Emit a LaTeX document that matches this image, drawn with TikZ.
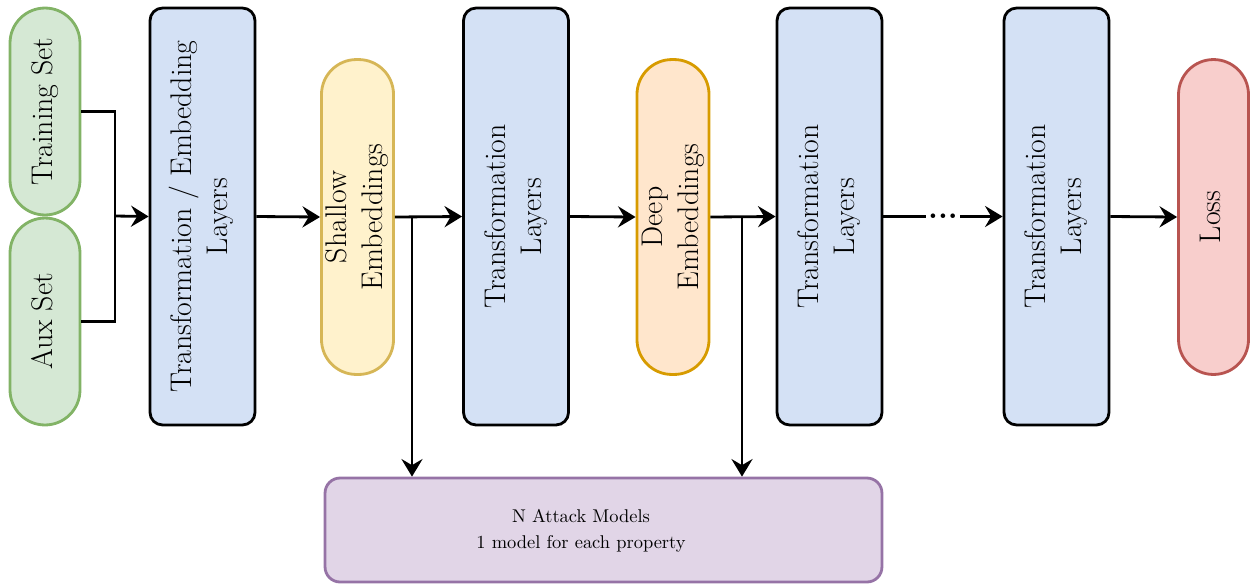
\documentclass[tikz,border=0pt]{standalone}
\usetikzlibrary{arrows.meta}

\definecolor{setfill}{HTML}{D5E8D4}
\definecolor{setdraw}{HTML}{82B366}
\definecolor{layerfill}{HTML}{D4E1F5}
\definecolor{shallowfill}{HTML}{FFF2CC}
\definecolor{shallowdraw}{HTML}{D6B656}
\definecolor{deepfill}{HTML}{FFE6CC}
\definecolor{deepdraw}{HTML}{D79B00}
\definecolor{lossfill}{HTML}{F8CECC}
\definecolor{lossdraw}{HTML}{B85450}
\definecolor{attackfill}{HTML}{E1D5E7}
\definecolor{attackdraw}{HTML}{9673A6}

\newcommand{\vlabel}[1]{\rotatebox{90}{\begin{tabular}{@{}c@{}}#1\end{tabular}}}

\begin{document}
\begin{tikzpicture}[x=0.02cm, y=-0.02cm, line width=1.6pt,
    layer/.style={draw=black, fill=layerfill, rounded corners=0.25cm, inner sep=0pt,
      minimum width=2.1cm, minimum height=8.34cm, font=\fontsize{17}{20.5}\selectfont},
    pill/.style={draw, rounded corners=0.7cm, inner sep=0pt, minimum width=1.4cm,
      font=\fontsize{17}{20.5}\selectfont},
    flow/.style={-{Stealth[length=10pt, width=12pt, inset=3.5pt]}}]
  \useasboundingbox (0,0) rectangle (1251,586);

  % inputs
  \node[pill, fill=setfill, draw=setdraw, minimum height=4.14cm] (train) at (45,111.5) {\vlabel{Training Set}};
  \node[pill, fill=setfill, draw=setdraw, minimum height=4.14cm] (aux) at (45,321.5) {\vlabel{Aux Set}};

  % layers and embeddings
  \node[layer] (embed) at (202.5,216.5) {\vlabel{Transformation / Embedding\\Layers}};
  \node[pill, fill=shallowfill, draw=shallowdraw, minimum height=6.3cm] (shallow) at (357.5,217) {\vlabel{Shallow\\Embeddings}};
  \node[layer] (trans1) at (516,216.5) {\vlabel{Transformation\\Layers}};
  \node[pill, fill=deepfill, draw=deepdraw, minimum height=6.3cm] (deep) at (673,217) {\vlabel{Deep\\Embeddings}};
  \node[layer] (trans2) at (829.5,216.5) {\vlabel{Transformation\\Layers}};
  \node[layer] (trans3) at (1056.5,216.5) {\vlabel{Transformation\\Layers}};
  \node[pill, fill=lossfill, draw=lossdraw, minimum height=6.3cm] (loss) at (1213.5,217) {\vlabel{Loss}};

  % attack models
  \node[draw=attackdraw, fill=attackfill, rounded corners=0.3cm, minimum width=11.14cm,
    minimum height=2.08cm, font=\fontsize{10.5}{15}\selectfont] (attack) at (603.5,530)
    {\begin{tabular}{@{}c@{}}N Attack Models\\1 model for each property\end{tabular}\hspace*{0.9cm}\mbox{}};

  \coordinate (join) at (115,216);
  \coordinate (tapA) at (412,216);
  \coordinate (tapB) at (742,216);

  \draw (train.east) -| (join) |- (aux.east);
  \draw[flow] (join) -- (embed.west);
  \draw[flow] (embed.east) -- (shallow.west);
  \draw[flow] (shallow.east) -- (trans1.west);
  \draw[flow] (trans1.east) -- (deep.west);
  \draw[flow] (deep.east) -- (trans2.west);
  \draw[flow] (trans2.east) -- node[fill=white, inner sep=1pt, font=\fontsize{18}{20}\bfseries] {...} (trans3.west);
  \draw[flow] (trans3.east) -- (loss.west);
  \draw[flow] (tapA) -- (tapA |- attack.north);
  \draw[flow] (tapB) -- (tapB |- attack.north);
\end{tikzpicture}
\end{document}
